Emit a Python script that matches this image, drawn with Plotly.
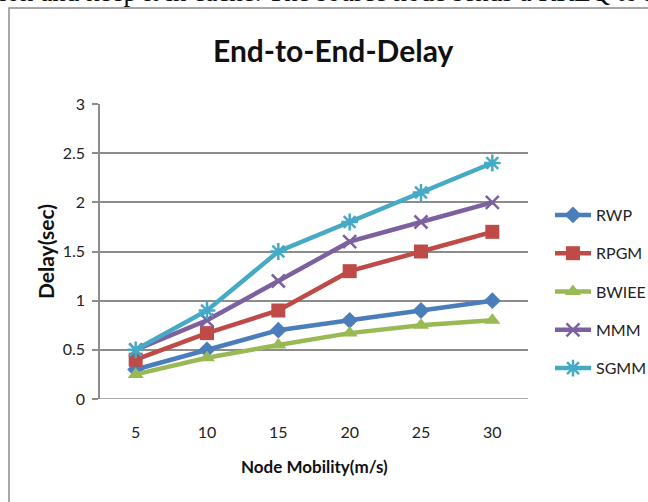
import plotly.graph_objects as go

# Node mobility (m/s) and end-to-end delay (sec) per mobility model
speeds = ["5", "10", "15", "20", "25", "30"]
rwp = [0.3, 0.5, 0.7, 0.8, 0.9, 1.0]
rpgm = [0.4, 0.67, 0.9, 1.3, 1.5, 1.7]
bwiee = [0.25, 0.42, 0.55, 0.67, 0.75, 0.8]
mmm = [0.5, 0.8, 1.2, 1.6, 1.8, 2.0]
sgmm = [0.5, 0.9, 1.5, 1.8, 2.1, 2.4]
y_ticks = [0, 0.5, 1, 1.5, 2, 2.5, 3]
y_tick_text = ["0", "0.5", "1", "1.5", "2", "2.5", "3"]

FONT = "Lato, 'Open Sans', sans-serif"

series = [
    ("RWP", rwp, "#4A7EBB", dict(symbol="diamond", size=13)),
    ("RPGM", rpgm, "#BE4B48", dict(symbol="square", size=14)),
    ("BWIEE", bwiee, "#98B954", dict(symbol="triangle-up", size=14)),
    ("MMM", mmm, "#7D60A0", dict(symbol="x-thin-open", size=13, line=dict(width=2.5))),
    ("SGMM", sgmm, "#46AAC5", dict(symbol="asterisk-open", size=14, line=dict(width=2.5))),
]

fig = go.Figure()
for name, vals, color, marker in series:
    mk = dict(marker)
    mk["color"] = color
    if "line" in mk:
        mk["line"] = dict(mk["line"], color=color)
    fig.add_trace(go.Scatter(
        x=speeds, y=vals, name=name, legendgroup=name,
        mode="lines+markers",
        line=dict(color=color, width=4.5),
        marker=mk,
    ))

W, H = 648, 502
L, R, T, B = 100, 120, 104, 103
pw, ph = W - L - R, H - T - B


def px(x):
    return (x - L) / pw


def py(y):
    return (H - B - y) / ph


fig.update_layout(
    width=W, height=H,
    margin=dict(l=L, r=R, t=T, b=B, pad=0, autoexpand=False),
    paper_bgcolor="white", plot_bgcolor="white",
    font=dict(family=FONT, size=16, color="#222222"),
    showlegend=True,
    legend=dict(
        xref="container", yref="container",
        x=550 / W, y=1 - 198 / H, xanchor="left", yanchor="top",
        font=dict(family=FONT, size=16, color="#222222"),
        tracegroupgap=14.5, itemwidth=36,
        bgcolor="rgba(0,0,0,0)",
    ),
    xaxis=dict(
        type="category", range=[-0.5, len(speeds) - 0.5],
        showgrid=False, zeroline=False,
        showline=False, ticks="", ticklabelstandoff=22,
        tickfont=dict(family=FONT, size=16, color="#222222"),
    ),
    yaxis=dict(
        range=[0, 3], tickvals=y_ticks, ticktext=y_tick_text,
        showgrid=True, gridcolor="#8C8C8C", gridwidth=1.5,
        zeroline=False, showline=True, linecolor="#8C8C8C", linewidth=1.5,
        ticks="outside", ticklen=6, tickcolor="#8C8C8C", tickwidth=1.5,
        ticklabelstandoff=4,
        tickfont=dict(family=FONT, size=16, color="#222222"),
    ),
    shapes=[
        # outer chart frame
        dict(type="rect", xref="paper", yref="paper",
             x0=px(9), x1=px(660), y0=py(520), y1=py(8),
             line=dict(color="#8C8C8C", width=1.5), fillcolor="rgba(0,0,0,0)",
             layer="below"),
        # bottom gridline at 0
        dict(type="line", xref="paper", yref="y",
             x0=px(94), x1=1, y0=0, y1=0,
             line=dict(color="#8C8C8C", width=1.5), layer="below"),
    ],
    annotations=[
        dict(text="<b>End-to-End-Delay</b>", xref="paper", yref="paper",
             x=px(333), y=py(50), xanchor="center", yanchor="middle",
             showarrow=False, font=dict(family=FONT, size=30, color="#111111")),
        dict(text="<b>Delay(sec)</b>", xref="paper", yref="paper",
             x=px(45), y=py(252), xanchor="center", yanchor="middle",
             textangle=-90, showarrow=False,
             font=dict(family=FONT, size=21, color="#111111")),
        dict(text="<b>Node Mobility(m/s)</b>", xref="paper", yref="paper",
             x=px(314), y=py(466), xanchor="center", yanchor="middle",
             showarrow=False, font=dict(family=FONT, size=17, color="#111111")),
        dict(text="ion and keep it in cache. The source node sends a RREQ to it",
             xref="paper", yref="paper",
             x=px(-3), y=py(9), xanchor="left", yanchor="bottom",
             showarrow=False,
             font=dict(family="'Liberation Serif', serif", size=27, color="#111111")),
    ],
)

fig.write_html("out.html")
